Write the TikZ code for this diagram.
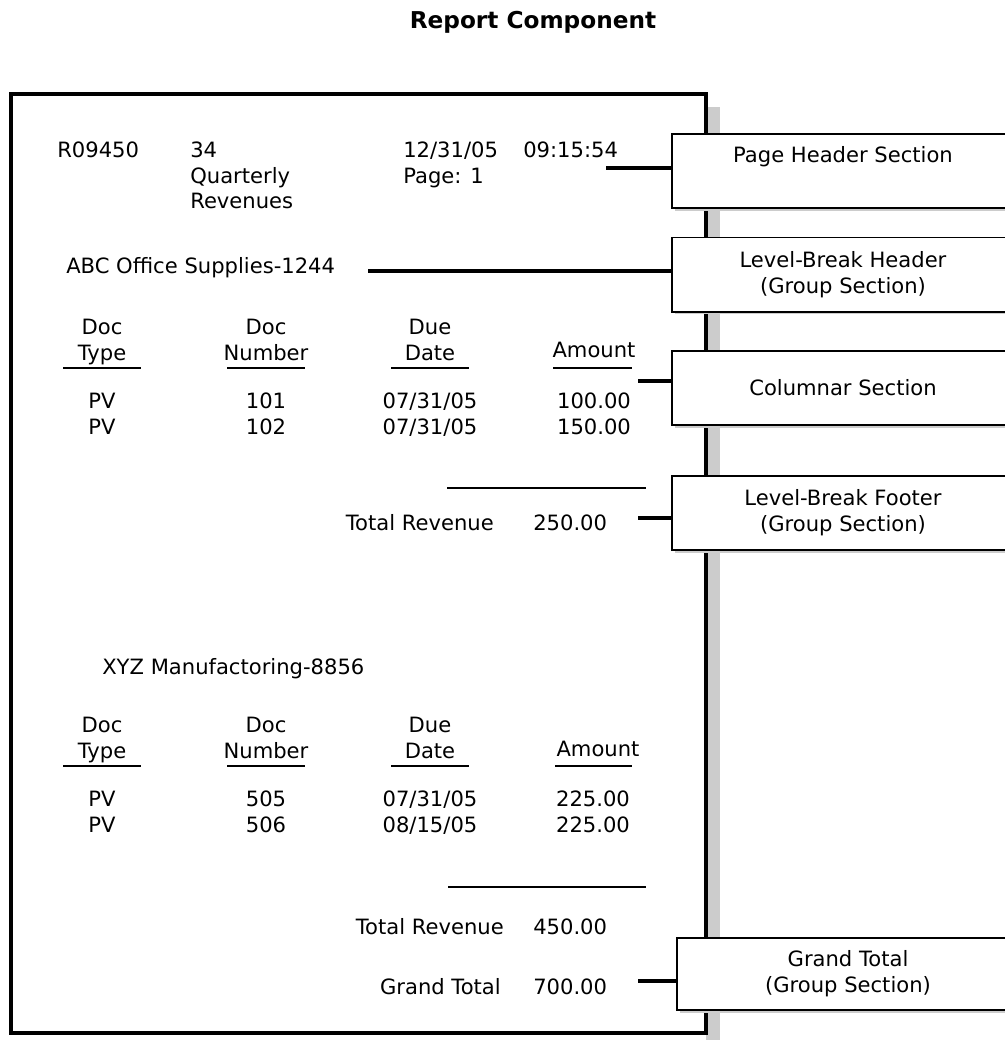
\documentclass[tikz,border=0pt]{standalone}
\usepackage{fontspec}
\setmainfont{DejaVu Sans}
\usetikzlibrary{positioning,shadows}

\tikzset{
  txt/.style={inner sep=0pt, font=\fontsize{15}{18.5}\selectfont},
  title/.style={inner sep=0pt, font=\fontsize{16.5}{20}\selectfont\bfseries},
  sect/.style={draw, line width=1.4pt, fill=white, minimum width=8.55cm,
    minimum height=1.85cm, align=center, inner sep=0pt,
    font=\fontsize{15}{18.5}\selectfont,
    drop shadow={shadow xshift=2pt, shadow yshift=-2pt, fill=black!20, opacity=1}},
  lead/.style={line width=3.5pt},
  rule/.style={line width=1.3pt},
}

\begin{document}
\begin{tikzpicture}[x=0.025cm, y=-0.025cm]
  \clip (0,0) rectangle (1005,1040);

  \node[title] (ttl) at (533,22) {Report Component};

  % the page and its shadow
  \fill[black!20] (706,107) rectangle (720,1040);
  \draw[line width=2.3pt] (11,94) rectangle (706,1033);
  \draw[line width=3.2pt] (706,93) -- (706,1034);

  % page header
  \node[txt, anchor=base west] (rid) at (57,157) {R09450};
  \node[txt, anchor=base west] (rno) at (190,157) {34};
  \node[txt, anchor=base west] (rq) at (190,183) {Quarterly};
  \node[txt, anchor=base west] (rrev) at (190,208) {Revenues};
  \node[txt, anchor=base west] (rdate) at (403,157) {12/31/05\hspace{1.2em}09:15:54};
  \node[txt, anchor=base west] (rpage) at (403,183) {Page: 1};

  % first group
  \node[txt, anchor=base west] (abc) at (66,273) {ABC Office Supplies-1244};

  \node[txt, anchor=base] (doca) at (102,334) {Doc};
  \node[txt, anchor=base] (typea) at (102,360) {Type};
  \node[txt, anchor=base] (docna) at (266,334) {Doc};
  \node[txt, anchor=base] (numa) at (266,360) {Number};
  \node[txt, anchor=base] (duea) at (430,334) {Due};
  \node[txt, anchor=base] (datea) at (430,360) {Date};
  \node[txt, anchor=base] (amta) at (594,357) {Amount};
  \draw[rule] (63,368) -- (141,368);
  \draw[rule] (227,368) -- (305,368);
  \draw[rule] (391,368) -- (469,368);
  \draw[rule] (553,368) -- (632,368);

  \node[txt, anchor=base] (pva) at (102,408) {PV};
  \node[txt, anchor=base] (pvb) at (102,434) {PV};
  \node[txt, anchor=base] (n101) at (266,408) {101};
  \node[txt, anchor=base] (n102) at (266,434) {102};
  \node[txt, anchor=base] (d101) at (430,408) {07/31/05};
  \node[txt, anchor=base] (d102) at (430,434) {07/31/05};
  \node[txt, anchor=base] (a101) at (594,408) {100.00};
  \node[txt, anchor=base] (a102) at (594,434) {150.00};

  \draw[rule] (447,488) -- (646,488);
  \node[txt, anchor=base east] (tra) at (494,530) {Total Revenue};
  \node[txt, anchor=base west] (tva) at (533,530) {250.00};

  % second group
  \node[txt, anchor=base west] (xyz) at (102,674) {XYZ Manufactoring-8856};

  \node[txt, anchor=base] (docb) at (102,732) {Doc};
  \node[txt, anchor=base] (typeb) at (102,758) {Type};
  \node[txt, anchor=base] (docnb) at (266,732) {Doc};
  \node[txt, anchor=base] (numb) at (266,758) {Number};
  \node[txt, anchor=base] (dueb) at (430,732) {Due};
  \node[txt, anchor=base] (dateb) at (430,758) {Date};
  \node[txt, anchor=base] (amtb) at (598,756) {Amount};
  \draw[rule] (63,766) -- (141,766);
  \draw[rule] (227,766) -- (305,766);
  \draw[rule] (391,766) -- (469,766);
  \draw[rule] (555,766) -- (632,766);

  \node[txt, anchor=base] (pvc) at (102,806) {PV};
  \node[txt, anchor=base] (pvd) at (102,832) {PV};
  \node[txt, anchor=base] (n505) at (266,806) {505};
  \node[txt, anchor=base] (n506) at (266,832) {506};
  \node[txt, anchor=base] (d505) at (430,806) {07/31/05};
  \node[txt, anchor=base] (d506) at (430,832) {08/15/05};
  \node[txt, anchor=base] (a505) at (593,806) {225.00};
  \node[txt, anchor=base] (a506) at (593,832) {225.00};

  \draw[rule] (448,887) -- (646,887);
  \node[txt, anchor=base east] (trb) at (504,934) {Total Revenue};
  \node[txt, anchor=base west] (tvb) at (533,934) {450.00};
  \node[txt, anchor=base east] (gtl) at (501,994) {Grand Total};
  \node[txt, anchor=base west] (gtv) at (533,994) {700.00};

  % section boxes
  \node[sect] (ph) at (843,171) {Page Header Section\\ \strut};
  \node[sect] (lbh) at (843,274.5) {Level-Break Header\\(Group Section)};
  \node[sect] (col) at (843,388) {Columnar Section};
  \node[sect] (lbf) at (843,513) {Level-Break Footer\\(Group Section)};
  \node[sect, minimum height=1.8cm] (gt) at (848,974) {Grand Total\\(Group Section)};

  % leader lines
  \coordinate (phl) at (606,168);
  \coordinate (lbhl) at (368,271);
  \coordinate (coll) at (638,381);
  \coordinate (lbfl) at (638,518);
  \coordinate (gtll) at (638,981);
  \draw[lead] (phl) -- (phl -| ph.west);
  \draw[lead] (lbhl) -- (lbhl -| lbh.west);
  \draw[lead] (coll) -- (coll -| col.west);
  \draw[lead] (lbfl) -- (lbfl -| lbf.west);
  \draw[lead] (gtll) -- (gtll -| gt.west);
\end{tikzpicture}
\end{document}
